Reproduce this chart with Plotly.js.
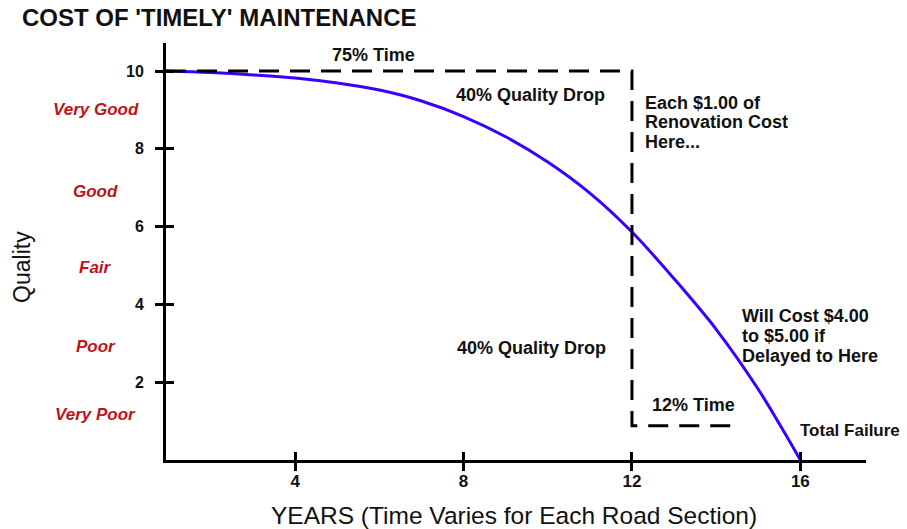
<!DOCTYPE html>
<html>
<head>
<meta charset="utf-8">
<script src="https://cdn.plot.ly/plotly-3.0.1.min.js"></script>
<style>html,body{margin:0;padding:0;background:#fff;}#chart{width:907px;height:529px;}</style>
</head>
<body>
<div id="chart"></div>
<script>
// ---- Data ----
const years   = [0.93, 2, 3, 4, 5, 6, 7, 8, 9, 10, 11, 12, 13, 14, 15, 15.5, 16];
const quality = [10.0, 9.96, 9.9, 9.82, 9.69, 9.51, 9.23, 8.83, 8.31, 7.66, 6.86, 5.86, 4.66, 3.36, 1.82, 0.93, 0.0];

const guideYears   = [0.93, 12, 12, 14.45];
const guideQuality = [10, 10, 0.88, 0.88];

const yTickVals = [2, 4, 6, 8, 10];
const xTickVals = [4, 8, 12, 16];
const xTickText = ['4', '8', '12', '16'];

const qualityLabels = ['Very Good', 'Good', 'Fair', 'Poor', 'Very Poor'];
const qualityMid    = [9.0, 6.9, 4.96, 2.93, 1.16];

const chartTitle = "COST OF 'TIMELY' MAINTENANCE";
const xTitle = 'YEARS (Time Varies for Each Road Section)';
const yTitle = 'Quality';

const noteTop      = '75% Time';
const noteDrop     = '40% Quality Drop';
const noteEach     = ['Each $1.00 of', 'Renovation Cost', 'Here...'];
const noteWill     = ['Will Cost $4.00', 'to $5.00 if', 'Delayed to Here'];
const noteTwelve   = '12% Time';
const noteFailure  = 'Total Failure';

// ---- Layout ----
const FONT = 'Liberation Sans, Arial, Helvetica, sans-serif';
const xRange = [0.93, 17.56];
const yRange = [0, 10.72];

const traces = [
  {x: guideYears, y: guideQuality, xaxis: 'x2', yaxis: 'y2', mode: 'lines',
   line: {color: '#000', width: 3, dash: '20px,11px'}, hoverinfo: 'skip', showlegend: false},
  {x: years, y: quality, mode: 'lines',
   line: {color: '#3a00ff', width: 3, shape: 'spline', smoothing: 1}, hoverinfo: 'skip', showlegend: false}
];

const bold = (size) => ({family: FONT, size: size, color: '#111', weight: 'bold'});

const annotations = [];
function note(text, x, y, xanchor, size) {
  annotations.push({text: text, x: x, y: y, xref: 'x', yref: 'y', xanchor: xanchor, yanchor: 'middle',
    showarrow: false, font: bold(size)});
}
note(noteTop, 5.85, 10.41, 'center', 18);
note(noteDrop, 9.6, 9.38, 'center', 18);
note(noteDrop, 9.62, 2.88, 'center', 18);
[9.18, 8.69, 8.17].forEach((yy, i) => note(noteEach[i], 12.26, yy, 'left', 18));
[3.70, 3.19, 2.67].forEach((yy, i) => note(noteWill[i], 14.57, yy, 'left', 18));
note(noteTwelve, 12.43, 1.41, 'left', 18);
note(noteFailure, 15.94, 0.77, 'left', 17);

qualityLabels.forEach((lab, i) => {
  annotations.push({text: lab, x: -0.1007, y: qualityMid[i], xref: 'paper', yref: 'y',
    xanchor: 'center', yanchor: 'middle', showarrow: false,
    font: {family: FONT, size: 17, color: '#c0121c', weight: 'bold', style: 'italic'}});
});

annotations.push({text: yTitle, x: -0.2057, y: 0.463, xref: 'paper', yref: 'paper', textangle: -90,
  xanchor: 'center', yanchor: 'middle', showarrow: false, font: {family: FONT, size: 23, color: '#111'}});
annotations.push({text: xTitle, x: 0.497, y: -0.132, xref: 'paper', yref: 'paper',
  xanchor: 'center', yanchor: 'middle', showarrow: false, font: {family: FONT, size: 24.5, color: '#111'}});

const layout = {
  width: 907, height: 529,
  margin: {l: 166, r: 41, t: 43, b: 69, pad: 0},
  paper_bgcolor: '#fff', plot_bgcolor: '#fff',
  title: {text: chartTitle, x: 22/907, xanchor: 'left', xref: 'container', y: 1 - 18/529, yanchor: 'middle', yref: 'container',
          font: {family: FONT, size: 24, color: '#111', weight: 'bold'}},
  xaxis: {range: xRange, showgrid: false, zeroline: false, showline: true, linecolor: '#000', linewidth: 3,
          tickmode: 'array', tickvals: xTickVals, ticktext: xTickText, ticks: 'outside', ticklen: 8, tickwidth: 3, tickcolor: '#000',
          ticklabelstandoff: -4, tickfont: {family: FONT, size: 17, color: '#111', weight: 'bold'}, fixedrange: true},
  yaxis: {range: yRange, showgrid: false, zeroline: false, showline: true, linecolor: '#000', linewidth: 3,
          tickmode: 'array', tickvals: yTickVals, ticks: 'outside', ticklen: 8, tickwidth: 3, tickcolor: '#000',
          ticklabelstandoff: 8, tickfont: {family: FONT, size: 16, color: '#111', weight: 'bold'}, fixedrange: true},
  xaxis2: {range: xRange, overlaying: 'x', anchor: 'y', showgrid: false, zeroline: false, showline: false,
           tickmode: 'array', tickvals: xTickVals, ticks: 'inside', ticklen: 8, tickwidth: 3, tickcolor: '#000',
           showticklabels: false, fixedrange: true},
  yaxis2: {range: yRange, overlaying: 'y', anchor: 'x', showgrid: false, zeroline: false, showline: false,
           tickmode: 'array', tickvals: yTickVals, ticks: 'inside', ticklen: 8, tickwidth: 3, tickcolor: '#000',
           showticklabels: false, fixedrange: true},
  annotations: annotations,
  showlegend: false
};

Plotly.newPlot('chart', traces, layout, {staticPlot: true, displayModeBar: false});
</script>
</body>
</html>
